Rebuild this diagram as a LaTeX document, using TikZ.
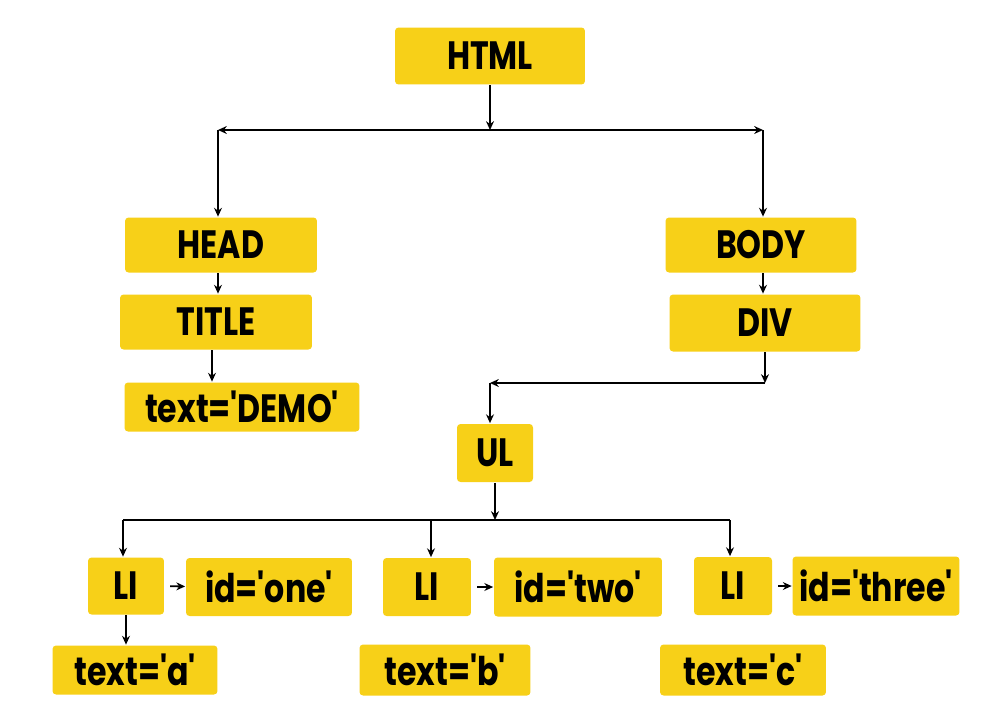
\documentclass[tikz,border=0pt]{standalone}
\usepackage{fontspec}
\setmainfont{Poppins}[BoldFont={* Bold}, FakeStretch=0.8, Ligatures=TeXOff]
\usetikzlibrary{arrows.meta}
\definecolor{tagyellow}{RGB}{247,208,24}
\tikzset{tagbox/.style={fill=tagyellow, rounded corners=2pt, inner sep=0pt, minimum height=1.14cm,
  font=\bfseries\fontsize{22.5}{26}\selectfont}}

\begin{document}
\begin{tikzpicture}[x=0.02cm, y=-0.02cm, >={Stealth[length=5pt,width=4.5pt]}, line width=1pt]
\useasboundingbox (0,0) rectangle (1000,707);
\node[tagbox, minimum width=3.8cm] (html) at (490,56) {HTML};
\node[tagbox, minimum width=3.84cm, minimum height=1.1cm] (head) at (221,245) {HEAD};
\node[tagbox, minimum width=3.82cm, minimum height=1.1cm] (body) at (761,245) {BODY};
\node[tagbox, minimum width=3.84cm, minimum height=1.1cm] (title) at (216,322) {TITLE};
\node[tagbox, minimum width=3.82cm] (div) at (765,323) {DIV};
\node[tagbox, minimum width=4.7cm, minimum height=0.98cm] (demo) at (242,407) {text='DEMO'};
\node[tagbox, minimum width=1.52cm, minimum height=1.16cm] (ul) at (495,453) {UL};
\node[tagbox, minimum width=1.52cm] (lia) at (126,586) {LI};
\node[tagbox, minimum width=3.32cm, minimum height=1.16cm] (ida) at (269,587) {id='one'};
\node[tagbox, minimum width=1.76cm, minimum height=1.16cm] (lib) at (427,587) {LI};
\node[tagbox, minimum width=3.36cm, minimum height=1.18cm] (idb) at (578,587) {id='two'};
\node[tagbox, minimum width=1.56cm, minimum height=1.16cm] (lic) at (733,586) {LI};
\node[tagbox, minimum width=3.34cm, minimum height=1.18cm] (idc) at (876,586) {id='three'};
\node[tagbox, minimum width=3.3cm, minimum height=0.98cm] (ta) at (135,670) {text='a'};
\node[tagbox, minimum width=3.42cm, minimum height=1.02cm] (tb) at (445,670) {text='b'};
\node[tagbox, minimum width=3.32cm, minimum height=1.02cm] (tc) at (743,670) {text='c'};
% junctions
\coordinate (j1) at (490,130);
\coordinate (jl) at (218,130);
\coordinate (jr) at (763,130);
\coordinate (k1) at (765,383);
\coordinate (k2) at (490,383);
\coordinate (m1) at (495,520);
\coordinate (ma) at (123,520);
\coordinate (mb) at (431,520);
\coordinate (mc) at (730,520);
\draw[->] (html) -- (j1);
\draw[->] (j1) -- (jl);
\draw[->] (j1) -- (jr);
\draw[->] (jl) -- (jl |- head.north);
\draw[->] (jr) -- (jr |- body.north);
\draw[->] (jl |- head.south) -- (jl |- title.north);
\draw[->] (jr |- body.south) -- (jr |- div.north);
\draw[->] ([xshift=-0.08cm]title.south) -- ([xshift=-0.08cm]title.south |- demo.north);
\draw[->] (div) -- (k1);
\draw[->] (k1) -- (k2);
\draw[->] (k2) -- (k2 |- ul.north);
\draw[->] (ul) -- (m1);
\draw (ma) -- (mc);
\draw[->] (ma) -- (ma |- lia.north);
\draw[->] (mb) -- (mb |- lib.north);
\draw[->] (mc) -- (mc |- lic.north);
\draw[->, shorten <=3pt] (lia) -- (ida);
\draw[->, shorten <=3pt] (lib) -- (idb);
\draw[->, shorten <=3pt] (lic) -- (idc);
\draw[->] (lia) -- (lia |- ta.north);
\end{tikzpicture}
\end{document}
